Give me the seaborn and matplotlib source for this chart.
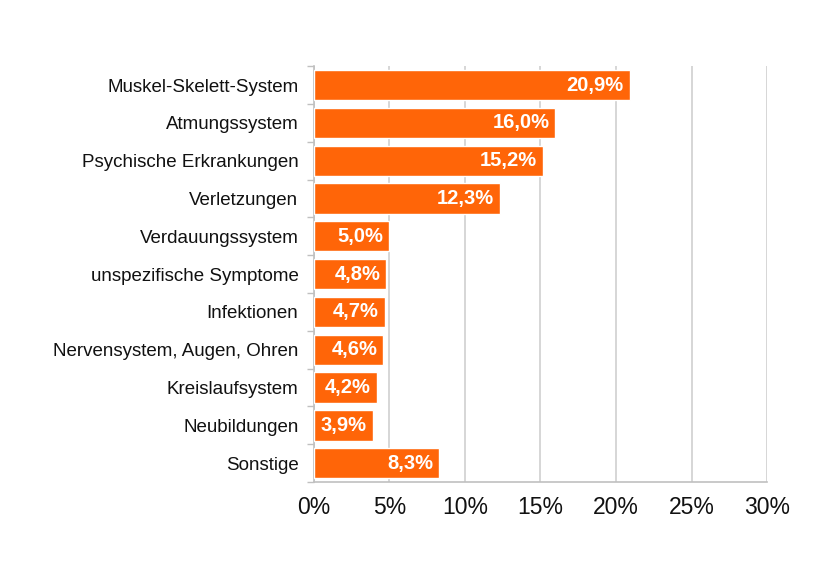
import numpy as np
import pandas as pd
import seaborn as sns
import matplotlib.pyplot as plt
from matplotlib.ticker import FixedLocator

kategorien = ['Muskel-Skelett-System', 'Atmungssystem', 'Psychische Erkrankungen',
              'Verletzungen', 'Verdauungssystem', 'unspezifische Symptome',
              'Infektionen', 'Nervensystem, Augen, Ohren', 'Kreislaufsystem',
              'Neubildungen', 'Sonstige']
anteile = [20.9, 16.0, 15.2, 12.3, 5.0, 4.8, 4.7, 4.6, 4.2, 3.9, 8.3]
xticks = [0, 5, 10, 15, 20, 25, 30]

df = pd.DataFrame({'Kategorie': kategorien, 'Anteil': anteile})

sns.set_style('white')
plt.rcParams['font.family'] = ['Liberation Sans', 'DejaVu Sans']

fig = plt.figure(figsize=(8.32, 5.76), dpi=100)
ax = fig.add_axes([0.377, 0.163, 0.545, 0.722])

sns.barplot(data=df, x='Anteil', y='Kategorie', color='#FF6508', saturation=1,
            width=0.8, ax=ax, zorder=3)

ax.set_xlim(0, 30)
ax.set_ylim(len(kategorien) - 0.5, -0.5)
ax.set_xticks(xticks)
ax.set_xticklabels([f'{t}%' for t in xticks], fontsize=16.5, color='#111111')
ax.tick_params(axis='y', labelsize=13.5, length=0, pad=11, labelcolor='#111111')
ax.tick_params(axis='x', length=5, width=1, color='#C0C0C0', pad=5, direction='out')
ax.yaxis.set_minor_locator(FixedLocator(np.arange(-0.5, len(kategorien), 1)))
ax.tick_params(axis='y', which='minor', length=5, width=1, color='#C0C0C0', left=True)
ax.set_xlabel('')
ax.set_ylabel('')

ax.grid(axis='x', color='#D0D0D0', linewidth=1.2, zorder=0)
ax.set_axisbelow(True)
for s in ['top', 'right']:
    ax.spines[s].set_visible(False)
for s in ['left', 'bottom']:
    ax.spines[s].set_color('#C0C0C0')
    ax.spines[s].set_linewidth(1.2)

for i, v in enumerate(anteile):
    ax.text(v - 0.4, i, f'{v:.1f}%'.replace('.', ','), ha='right', va='center',
            color='white', fontsize=14.5, fontweight='bold', zorder=4)

plt.savefig('out.png', dpi=100)
plt.close()
